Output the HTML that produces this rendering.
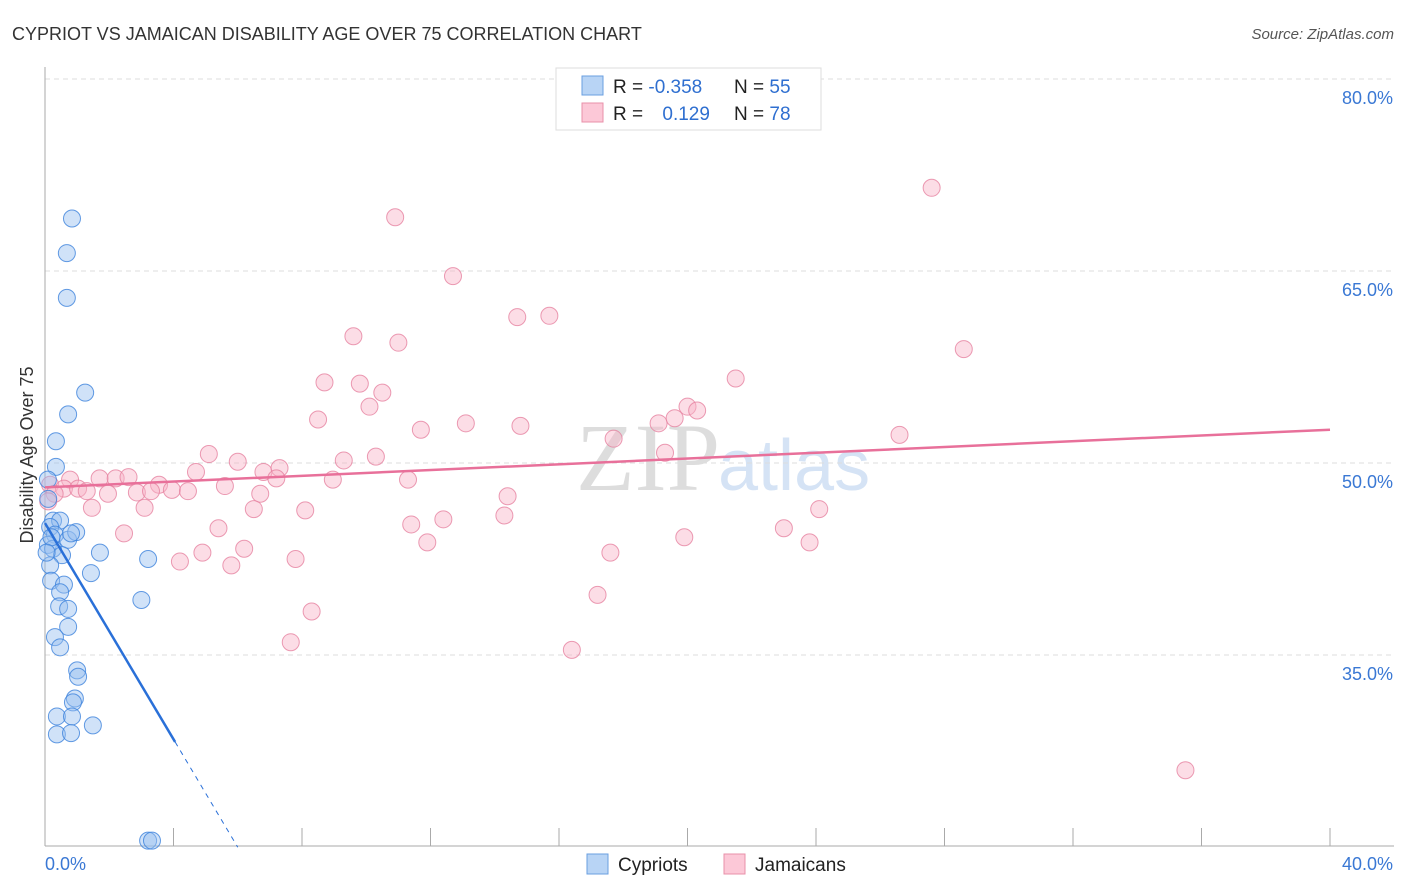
<!DOCTYPE html>
<html><head><meta charset="utf-8"><style>
body{margin:0;background:#fff;font-family:"Liberation Sans",sans-serif}
#wrap{position:relative;width:1406px;height:892px;overflow:hidden}
</style></head><body>
<div id="wrap">
<svg id="chart" width="1406" height="892">
<text x="12" y="40" font-size="18" fill="#333">CYPRIOT VS JAMAICAN DISABILITY AGE OVER 75 CORRELATION CHART</text>
<text x="1394" y="39" font-size="15" fill="#555" font-style="italic" text-anchor="end">Source: ZipAtlas.com</text>
<text x="720" y="490" font-size="96" fill="#ddd" font-family="Liberation Serif" text-anchor="end">ZIP</text>
<text x="718" y="490" font-size="72" fill="#d5e3f5">atlas</text>
<text transform="translate(33,455) rotate(-90)" font-size="18" fill="#333" text-anchor="middle">Disability Age Over 75</text>
<g id="grid"></g><g id="marks"></g>
<g>
<rect x="556" y="68" width="265" height="62" fill="#fff" stroke="#ddd"/>
<rect x="582" y="76" width="21" height="19" fill="#b8d4f5" stroke="#6a9fe0"/>
<rect x="582" y="103" width="21" height="19" fill="#fcc8d7" stroke="#e890aa"/>
<text x="613" y="93" font-size="19" fill="#222">R = <tspan fill="#2f6fd0">-0.358</tspan></text>
<text x="734" y="93" font-size="19" fill="#222">N = <tspan fill="#2f6fd0">55</tspan></text>
<text x="613" y="120" font-size="19" fill="#222">R = <tspan fill="#2f6fd0" dx="14">0.129</tspan></text>
<text x="734" y="120" font-size="19" fill="#222">N = <tspan fill="#2f6fd0">78</tspan></text>
</g>
<g>
<rect x="587" y="854" width="21" height="20" fill="#b8d4f5" stroke="#6a9fe0"/>
<text x="618" y="871" font-size="19" fill="#222">Cypriots</text>
<rect x="724" y="854" width="21" height="20" fill="#fcc8d7" stroke="#e890aa"/>
<text x="755" y="871" font-size="19" fill="#222">Jamaicans</text>
</g>
</svg>
</div>
<script>
const yTicks=[80,65,50,35];
const xTickLabels=["0.0%","40.0%"];
const blueX=[0.84,0.68,0.68,1.25,0.72,0.34,0.34,0.09,0.25,0.47,0.16,0.31,0.72,0.97,0.81,0.09,0.25,0.53,1.71,3.21,0.16,0.19,1.43,0.59,0.47,3.0,0.44,0.72,0.72,0.31,0.47,1.0,1.03,0.93,0.87,0.37,0.84,1.49,0.37,0.81,3.21,3.33,0.1,0.2,0.05];
const blueY=[69.1,66.4,62.9,55.5,53.8,51.7,49.7,48.7,45.5,45.5,45.0,44.4,44.0,44.6,44.5,43.6,43.3,42.8,43.0,42.5,42.0,40.8,41.4,40.5,39.9,39.3,38.8,38.6,37.2,36.4,35.6,33.8,33.3,31.6,31.3,30.2,30.2,29.5,28.8,28.9,20.5,20.5,47.2,44.2,43.0];
const pinkX=[27.6,10.9,12.7,14.7,15.7,9.6,11.0,28.6,8.7,9.8,21.5,10.5,10.1,20.0,20.3,8.5,19.6,19.1,13.1,14.8,11.7,26.6,17.7,5.1,10.3,19.3,6.0,9.3,4.7,6.8,7.3,1.7,2.2,2.6,7.2,11.3,8.96,0.16,0.78,0.59,1.03,3.55,5.6,1.3,1.96,2.86,3.3,3.95,4.45,6.7,14.4,3.1,1.46,6.5,8.1,14.3,24.1,12.4,11.4,5.4,2.46,23.0,19.9,11.9,23.8,6.2,4.9,17.6,4.2,7.8,5.8,17.2,8.3,7.65,16.4,35.5,0.3,0.1];
const pinkY=[71.5,69.2,64.6,61.4,61.5,59.9,59.4,58.9,56.3,56.2,56.6,55.5,54.4,54.4,54.1,53.4,53.5,53.1,53.1,52.9,52.6,52.2,51.9,50.7,50.5,50.8,50.1,50.2,49.3,49.3,49.6,48.8,48.8,48.9,48.8,48.7,48.7,48.3,48.7,48.0,48.0,48.3,48.2,47.8,47.6,47.7,47.8,47.9,47.8,47.6,47.4,46.5,46.5,46.4,46.3,45.9,46.4,45.6,45.2,44.9,44.5,44.9,44.2,43.8,43.8,43.3,43.0,43.0,42.3,42.5,42.0,39.7,38.4,36.0,35.4,26.0,47.6,47.0];
const pinkTrend=[48.1,52.6];
const blueTrend={intercept:45.3,slope:-4.22,solidEnd:4.05,dashEnd:6.0};
const NS="http://www.w3.org/2000/svg";
const sx=v=>45+v/40*1285, sy=v=>79+(80-v)*12.8;
function mk(tag,attrs,parent){const e=document.createElementNS(NS,tag);for(const k in attrs)e.setAttribute(k,attrs[k]);parent.appendChild(e);return e;}
const grid=document.getElementById('grid'), marks=document.getElementById('marks');
for(const t of yTicks){
 const l=mk('line',{x1:45,x2:1394,y1:sy(t),y2:sy(t),stroke:'#ddd','stroke-dasharray':'5,4'},grid);
 
 
 const tx=mk('text',{x:1393,y:sy(t)+25,'font-size':18,fill:'#3a78d4','text-anchor':'end'},grid);
 tx.textContent=t.toFixed(1)+'%';
 
 
}
const ax=mk('line',{x1:45,x2:45,y1:67,y2:846,stroke:'#aaa'},grid);


const bx=mk('line',{x1:45,x2:1394,y1:846,y2:846,stroke:'#aaa'},grid);


for(let i=0;i<=10;i++){
 const t=mk('line',{x1:sx(i*4),x2:sx(i*4),y1:828,y2:846,stroke:'#aaa'},grid);
 
 
}
const xl0=mk('text',{x:45,y:870,'font-size':18,fill:'#3a78d4'},grid);xl0.textContent=xTickLabels[0];


const xl1=mk('text',{x:1393,y:870,'font-size':18,fill:'#3a78d4','text-anchor':'end'},grid);xl1.textContent=xTickLabels[1];


pinkX.forEach((x,i)=>{
 const c=mk('circle',{cx:sx(x),cy:sy(pinkY[i]),r:8.5,fill:'rgba(248,180,200,0.45)',stroke:'rgba(230,130,160,0.8)','stroke-width':1},marks);
 
 
});
blueX.forEach((x,i)=>{
 const c=mk('circle',{cx:sx(x),cy:sy(blueY[i]),r:8.5,fill:'rgba(150,190,240,0.45)',stroke:'rgba(60,130,220,0.8)','stroke-width':1},marks);
 
 
});
const pl=mk('line',{x1:sx(0),y1:sy(pinkTrend[0]),x2:sx(40),y2:sy(pinkTrend[1]),stroke:'#e8709a','stroke-width':2.5},marks);


const by=x=>blueTrend.intercept+blueTrend.slope*x;
const bl=mk('line',{x1:sx(0),y1:sy(by(0)),x2:sx(blueTrend.solidEnd),y2:sy(by(blueTrend.solidEnd)),stroke:'#2a70d8','stroke-width':2.5},marks);


const bd=mk('line',{x1:sx(blueTrend.solidEnd),y1:sy(by(blueTrend.solidEnd)),x2:sx(blueTrend.dashEnd),y2:sy(by(blueTrend.dashEnd)),stroke:'#2a70d8','stroke-width':1,'stroke-dasharray':'5,5'},marks);


</script>
</body></html>
